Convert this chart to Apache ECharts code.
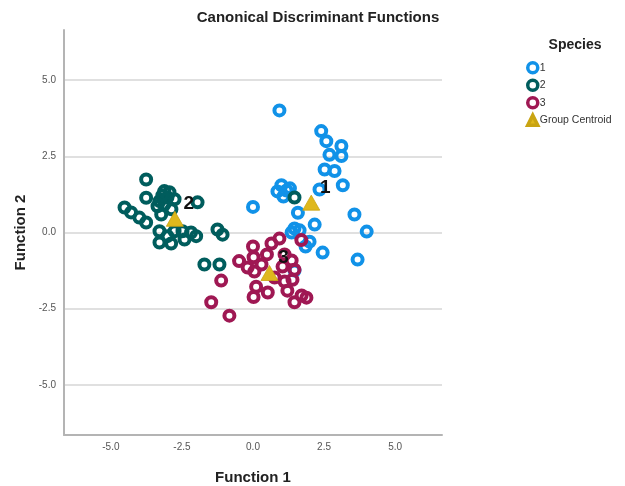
<!DOCTYPE html>
<html>
<head>
<meta charset="utf-8">
<script src="https://cdn.jsdelivr.net/npm/echarts@6/dist/echarts.min.js"></script>
<style>
html,body{margin:0;padding:0;background:#fff;}
#chart{width:625px;height:486px;}
</style>
</head>
<body>
<div id="chart"></div>
<script>
// ---- data ----
var speciesNames = ['1', '2', '3'];
var centroidName = 'Group Centroid';
var tickValues = [-5, -2.5, 0, 2.5, 5];

var species1X = [0.93, 2.40, 2.58, 3.11, 3.11, 2.69, 2.52, 2.87, 3.16, 2.34, 1.00, 1.18, 0.86, 1.07, 0.00, 1.58, 2.17, 1.46, 1.64, 1.36, 1.99, 2.45, 3.57, 4.00, 3.68, 1.46, 1.85, 1.30];
var species1Y = [4.01, 3.33, 3.00, 2.84, 2.51, 2.55, 2.07, 2.02, 1.55, 1.41, 1.55, 1.38, 1.35, 1.18, 0.84, 0.65, 0.26, 0.13, 0.07, 0.00, -0.30, -0.66, 0.59, 0.03, -0.89, -1.25, -0.46, 1.45];

var species2X = [-3.76, -3.76, -3.12, -2.94, -3.29, -3.12, -3.01, -3.36, -1.95, -4.52, -4.29, -4.00, -3.76, -3.23, -3.29, -3.01, -2.88, -3.29, -2.48, -2.41, -2.18, -2.00, -2.76, -1.25, -1.07, -1.71, -1.18, 1.46, -2.76, -2.87, -3.19];
var species2Y = [1.74, 1.14, 1.36, 1.32, 1.03, 0.92, 1.15, 0.86, 0.99, 0.82, 0.66, 0.49, 0.33, 0.59, 0.04, -0.12, -0.36, -0.33, 0.04, -0.23, 0.00, -0.12, 0.04, 0.10, -0.07, -1.05, -1.05, 1.15, 1.09, 0.76, 1.22];

var species3X = [0.00, 0.65, 0.93, 1.70, -0.49, 0.02, 0.49, 0.05, 1.04, 1.36, 1.46, -1.12, 0.11, 0.52, 0.02, 1.21, 1.46, 1.71, 1.88, -1.47, -0.83, 0.76, 1.11, 0.30, 1.11, 1.39, -0.19];
var species3Y = [-0.46, -0.36, -0.20, -0.25, -0.94, -0.81, -0.72, -1.28, -1.12, -0.92, -1.22, -1.58, -1.78, -1.97, -2.12, -1.91, -2.29, -2.07, -2.14, -2.29, -2.73, -1.48, -1.61, -1.05, -0.72, -1.55, -1.15];

var centroidX = [2.05, -2.75, 0.58];
var centroidY = [0.98, 0.45, -1.33];
var centroidLabels = ['1', '2', '3'];

// ---- build ----
function pairs(xs, ys) {
  var out = [];
  for (var i = 0; i < xs.length; i++) out.push([xs[i], ys[i]]);
  return out;
}
var colors = ['#1192e8', '#005d5d', '#9f1853'];
var centroidColor = '#dfb81c';
var FONT = '"Liberation Sans", Arial, sans-serif';

function ringSeries(name, data, color) {
  return {
    name: name,
    type: 'scatter',
    data: data,
    symbol: 'circle',
    symbolSize: 10,
    itemStyle: { color: 'rgba(255,255,255,0)', borderColor: color, borderWidth: 4, opacity: 1 },
    emphasis: { disabled: true },
    z: 2
  };
}

var chart = echarts.init(document.getElementById('chart'), null, { renderer: 'canvas' });
var option = {
  animation: false,
  backgroundColor: '#ffffff',
  textStyle: { fontFamily: FONT },
  grid: { left: 64, top: 30, right: 183, bottom: 51, containLabel: false, outerBoundsMode: 'none' },
  graphic: [
    { type: 'text',
      style: { text: 'Canonical Discriminant Functions', x: 318, y: 18, textAlign: 'center', textVerticalAlign: 'middle',
        fontFamily: FONT, fontWeight: 'bold', fontSize: 15, fill: '#222' } },
    { type: 'text',
      style: { text: 'Species', x: 575, y: 45, textAlign: 'center', textVerticalAlign: 'middle',
        fontFamily: FONT, fontWeight: 'bold', fontSize: 14, fill: '#222' } }
  ],
  legend: {
    orient: 'vertical',
    left: 526,
    top: 61,
    padding: 0,
    itemGap: 4,
    itemWidth: 10,
    itemHeight: 10,
    itemStyle: { borderWidth: 3.5 },
    textStyle: { fontFamily: FONT, fontSize: 10.5, color: '#333', padding: [0, 0, 0, -3] },
    data: speciesNames.concat([centroidName]),
    selectedMode: false
  },
  xAxis: {
    type: 'value',
    min: -6.65,
    max: 6.65,
    name: 'Function 1',
    nameLocation: 'middle',
    nameGap: 35,
    nameTextStyle: { fontFamily: FONT, fontWeight: 'bold', fontSize: 15, color: '#222' },
    axisLine: { show: true, onZero: false, lineStyle: { color: '#b4b4b4', width: 2 } },
    axisTick: { show: false, customValues: tickValues },
    axisLabel: { customValues: tickValues, fontSize: 10, color: '#555', margin: 7,
      formatter: function (v) { return v.toFixed(1); } },
    splitLine: { show: false }
  },
  yAxis: {
    type: 'value',
    min: -6.65,
    max: 6.65,
    name: 'Function 2',
    nameLocation: 'middle',
    nameGap: 34,
    nameRotate: 90,
    nameTextStyle: { fontFamily: FONT, fontWeight: 'bold', fontSize: 15, color: '#222' },
    axisLine: { show: true, onZero: false, lineStyle: { color: '#b4b4b4', width: 2 } },
    axisTick: { show: false, customValues: tickValues },
    axisLabel: { customValues: tickValues, fontSize: 10, color: '#555', margin: 8,
      formatter: function (v) { return v.toFixed(1); } },
    splitLine: { show: true, lineStyle: { color: '#d6d6d6', width: 1.5 } }
  },
  series: [
    ringSeries(speciesNames[0], pairs(species1X, species1Y), colors[0]),
    ringSeries(speciesNames[1], pairs(species2X, species2Y), colors[1]),
    ringSeries(speciesNames[2], pairs(species3X, species3Y), colors[2]),
    {
      name: centroidName,
      type: 'scatter',
      symbol: 'triangle',
      symbolSize: [17, 15],
      data: pairs(centroidX, centroidY),
      itemStyle: { color: centroidColor, borderColor: '#c9a412', borderWidth: 0.8, opacity: 1 },
      label: {
        show: true,
        position: 'inside',
        offset: [14, -15],
        fontFamily: FONT,
        fontWeight: 'bold',
        fontSize: 19,
        color: '#111',
        formatter: function (p) { return centroidLabels[p.dataIndex]; }
      },
      emphasis: { disabled: true },
      z: 5
    }
  ]
};
chart.setOption(option);
</script>
</body>
</html>
